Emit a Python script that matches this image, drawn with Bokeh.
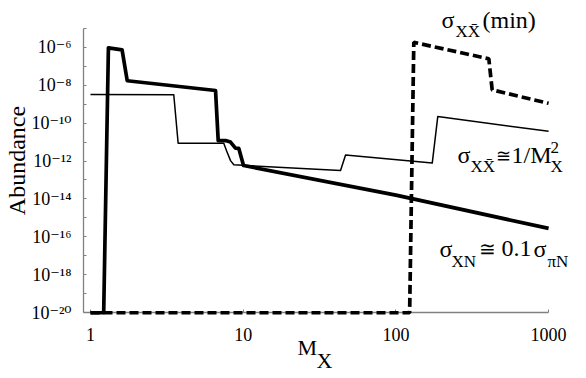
import math
from bokeh.plotting import figure
from bokeh.models import Range1d, FixedTicker, Label
from bokeh.embed import file_html
from bokeh.resources import INLINE

# ---- data ----
# sigma_XN ~ 0.1 sigma_piN  (thick solid)
x_thick = [1.0, 1.22, 1.31, 1.61, 1.74, 6.59, 6.86, 7.66, 8.26, 8.90, 9.36, 10.05, 100.0, 1000.0]
y_thick = [1e-20, 1e-20, 9.3e-7, 7.2e-7, 1.7e-8, 5.2e-9, 1.2e-11, 1.2e-11, 1.0e-11, 4.8e-12,
           4.6e-12, 5.8e-13, 1.6e-14, 2.8e-16]

# sigma_XXbar ~ 1/M_X^2  (thin solid)
x_thin = [1.0, 3.51, 3.75, 7.46, 7.78, 8.26, 8.68, 43.4, 46.8, 173.0, 188.0, 1000.0]
y_thin = [3.2e-9, 3.1e-9, 8.7e-12, 8.7e-12, 3.5e-12, 1.05e-12, 6.3e-13, 3.2e-13, 2.1e-12,
          7.8e-13, 2.2e-10, 3.7e-11]

# sigma_XXbar (min)  (thick dashed)
x_dash = [1.0, 123.0, 131.0, 406.0, 427.0, 1000.0]
y_dash = [1e-20, 1e-20, 1.8e-6, 2.45e-7, 5.6e-9, 1.1e-9]

x_ticks = [1, 10, 100, 1000]
x_tick_labels = ["1", "10", "100", "1000"]
y_ticks = [1e-20, 1e-18, 1e-16, 1e-14, 1e-12, 1e-10, 1e-8, 1e-6]
y_minor_ticks = [1e-19, 1e-17, 1e-15, 1e-13, 1e-11, 1e-9, 1e-7, 1e-5]
y_tick_labels = ["10\u207b\u00b2\u2070", "10\u207b\u00b9\u2078", "10\u207b\u00b9\u2076",
                 "10\u207b\u00b9\u2074", "10\u207b\u00b9\u00b2", "10\u207b\u00b9\u2070",
                 "10\u207b\u2078", "10\u207b\u2076"]

FONT = "Liberation Serif, DejaVu Serif, serif"

W, H = 586, 378
# The frame fills the whole canvas; the axes are drawn at fixed locations
# with bounds, so the annotation texts outside the axes box stay visible.
p = figure(width=W, height=H, x_axis_type="log", y_axis_type="log",
           x_range=Range1d(10 ** -0.5894, 10 ** 3.2482),
           y_range=Range1d(10 ** -23.465, 10 ** -3.538),
           output_backend="svg", toolbar_location=None,
           min_border=0, min_border_left=0, min_border_right=0,
           min_border_top=0, min_border_bottom=0)
p.outline_line_color = None
p.grid.visible = False
p.background_fill_color = "white"

# curves drawn above the axis lines
p.line(x_thin, y_thin, line_width=1.5, color="black", line_join="round", level="overlay")
p.line(x_thick, y_thick, line_width=3.7, color="black", line_join="round", level="overlay")
p.line(x_dash, y_dash, line_width=3.7, color="black", line_dash="9 4", level="overlay")

# axes
for ax in (p.xaxis[0], p.yaxis[0]):
    ax.axis_line_color = "#808080"
    ax.axis_line_width = 1.3
    ax.major_tick_line_color = "#808080"
    ax.minor_tick_line_color = "#808080"
    ax.major_tick_in = 3
    ax.major_tick_out = 0
    ax.minor_tick_in = 3
    ax.minor_tick_out = 0
    ax.major_label_text_font = FONT
    ax.major_label_text_font_size = "18px"
    ax.major_label_text_color = "black"

p.xaxis.ticker = FixedTicker(ticks=x_ticks)
p.xaxis.major_label_overrides = {t: l for t, l in zip(x_ticks, x_tick_labels)}
p.xaxis.major_label_standoff = 15
p.xaxis.fixed_location = 1e-20
p.xaxis.bounds = (0.9, 1000)

p.yaxis.ticker = FixedTicker(ticks=y_ticks, minor_ticks=y_minor_ticks)
p.yaxis.major_label_overrides = {t: l for t, l in zip(y_ticks, y_tick_labels)}
p.yaxis.major_label_standoff = 12
p.yaxis.fixed_location = 0.9
p.yaxis.bounds = (1e-20, 1e-5)


def lab(text, px, py, size, angle=0.0, align="left"):
    # px, py: wanted baseline position (from the top-left corner)
    s = float(size.rstrip("px"))
    shift = 0.33 * s  # compensation for how the anchor is placed
    if angle:
        px -= shift
    else:
        py -= shift
    p.add_layout(Label(x=px, y=H - py, x_units="screen", y_units="screen",
                       text=text, text_font=FONT, text_font_size=size,
                       text_color="black", text_baseline="alphabetic",
                       text_align=align, angle=angle))


# sigma_XXbar (min)
lab("\u03c3", 441, 27, "24px")
lab("XX\u0304", 455, 37, "17px")
lab("(min)", 482, 27, "24px")
# sigma_XXbar ~ 1/M_X^2
lab("\u03c3", 457, 162, "24px")
lab("XX\u0304", 470, 172, "17px")
lab("\u2245", 495, 161, "18px")
lab("1/M", 511, 162, "24px")
lab("2", 550, 153, "17px")
lab("X", 550, 172, "17px")
# sigma_XN ~ 0.1 sigma_piN
lab("\u03c3", 439, 256, "24px")
lab("XN", 451, 267, "17px")
lab("\u2245", 478, 255, "20px")
lab("0.1", 501, 256, "24px")
lab("\u03c3", 533, 256, "24px")
lab("\u03c0N", 547, 267, "17px")

# axis titles
lab("Abundance", 24, 160, "24px", angle=math.pi / 2, align="center")
lab("M", 297, 354, "22px")
lab("X", 316, 367, "22px")

open("out.html", "w").write(file_html(p, INLINE))
